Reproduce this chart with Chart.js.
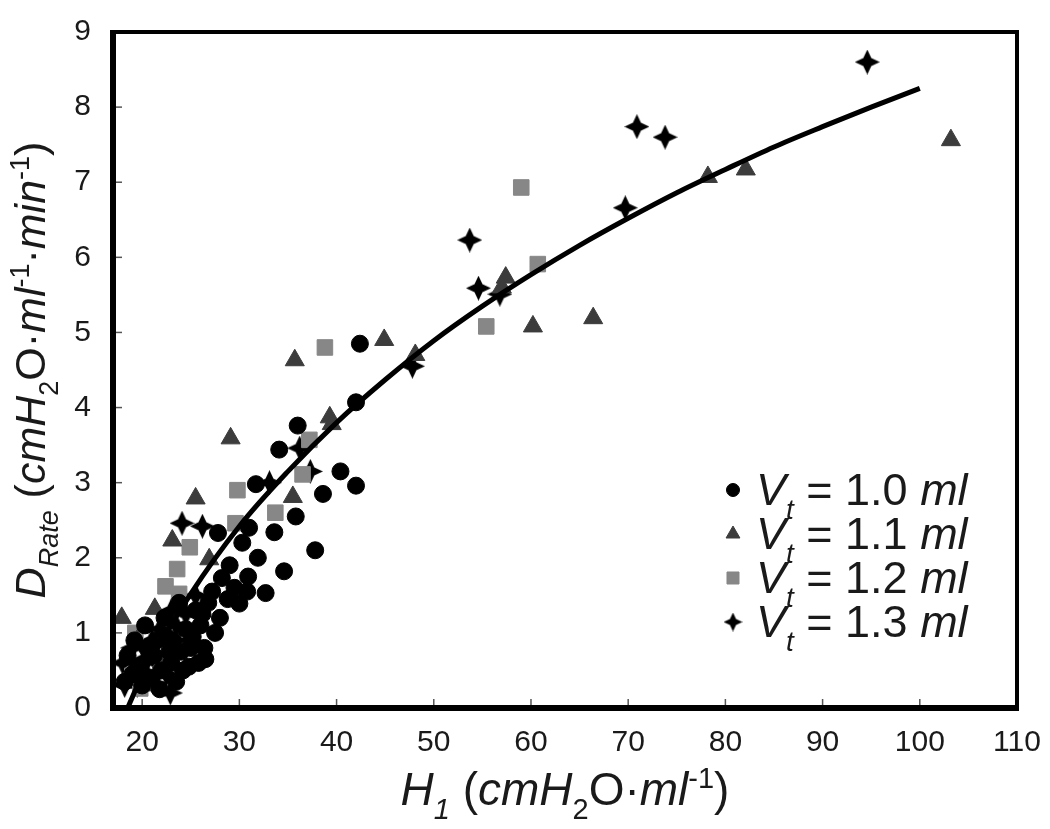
<!DOCTYPE html>
<html>
<head>
<meta charset="utf-8">
<script src="https://cdn.jsdelivr.net/npm/chart.js@4.4.1/dist/chart.umd.min.js"></script>
<style>
  html, body { margin: 0; background: #fff; }
</style>
</head>
<body>
<canvas id="chart" width="1050" height="829"></canvas>
<script>
// tick labels
const xTicks = [20, 30, 40, 50, 60, 70, 80, 90, 100, 110];
const yTicks = [0, 1, 2, 3, 4, 5, 6, 7, 8, 9];

// series, [H1, DRate]
const vt10 = [
  [42.4, 4.85], [42.0, 4.07], [36.0, 3.76], [34.1, 3.44], [40.4, 3.15], [42.0, 2.96],
  [38.6, 2.85], [35.8, 2.55], [31.7, 2.98], [33.6, 2.34], [37.8, 2.1], [34.6, 1.82],
  [32.7, 1.53], [27.8, 2.33], [30.3, 2.2], [31.9, 2.0], [30.9, 1.75], [28.2, 1.73],
  [30.0, 1.39], [30.8, 1.55], [29.0, 1.9], [31.0, 2.4], [29.5, 1.6], [27.5, 1.0],
  [26.5, 0.65], [26.4, 0.8], [28.0, 1.2], [26.0, 1.1], [25.2, 0.95], [24.0, 0.75],
  [23.0, 0.6], [22.0, 0.5], [21.0, 0.4], [19.5, 0.55], [20.5, 0.8], [21.5, 0.9],
  [22.5, 0.95], [24.5, 1.05], [25.5, 1.3], [23.5, 0.35], [24.8, 0.55], [20.0, 0.3],
  [18.5, 0.7], [19.0, 0.45], [26.8, 1.4], [27.2, 1.55], [28.8, 1.45], [25.8, 0.6],
  [22.8, 0.75], [19.2, 0.9], [20.3, 1.1], [21.2, 0.7], [22.3, 1.2], [23.2, 0.9],
  [24.2, 0.5], [25.0, 0.8], [26.2, 1.25], [23.8, 1.4], [21.8, 0.25], [18.2, 0.35]
];
const vt11 = [
  [103.2, 7.56], [82.1, 7.17], [78.2, 7.07], [66.4, 5.19], [60.2, 5.08], [57.4, 5.73],
  [57.0, 5.6], [48.1, 4.7], [44.9, 4.9], [35.7, 4.63], [39.3, 3.87], [39.5, 3.78],
  [29.1, 3.59], [35.5, 2.81], [25.5, 2.79], [23.1, 2.23], [26.9, 1.98], [21.3, 1.32],
  [17.9, 1.2], [19.5, 0.9], [22.0, 0.6], [22.8, 0.74], [20.5, 0.3]
];
const vt12 = [
  [59.0, 6.93], [60.7, 5.91], [55.4, 5.08], [38.8, 4.8], [37.2, 3.57], [36.5, 3.11],
  [33.7, 2.6], [29.8, 2.9], [29.6, 2.46], [24.9, 2.14], [23.6, 1.85], [22.4, 1.62],
  [23.8, 1.52], [19.8, 0.26], [19.3, 1.0], [22.8, 0.78], [19.0, 0.43]
];
const vt13 = [
  [94.6, 8.6], [70.9, 7.74], [73.8, 7.6], [69.7, 6.66], [53.7, 6.23], [54.6, 5.59],
  [56.8, 5.51], [47.8, 4.55], [36.2, 3.46], [37.3, 3.15], [33.1, 3.0], [24.1, 2.46],
  [26.2, 2.42], [22.9, 0.2], [18.0, 0.6], [19.0, 0.8], [20.2, 0.65], [21.0, 0.9],
  [21.8, 1.05], [22.5, 0.45], [23.5, 1.1], [24.5, 1.25], [20.5, 0.45], [19.5, 0.3],
  [25.5, 1.5], [18.2, 0.3], [21.5, 0.6], [23.0, 1.3], [24.8, 0.9]
];

// fitted curve
const fitX = [18.5, 20, 25, 30, 35, 40, 45, 50, 55, 60, 65, 70, 75, 80, 85, 90, 95, 100];
const fitY = [0.0, 0.43, 1.52, 2.42, 3.15, 3.8, 4.37, 4.89, 5.35, 5.77, 6.16, 6.52, 6.86, 7.17, 7.47, 7.74, 8.0, 8.25];

const legendLabels = ['1.0', '1.1', '1.2', '1.3'];

const FONT = '"Liberation Sans", Arial, sans-serif';

function makeStar(size, inner) {
  const c = document.createElement('canvas');
  c.width = size; c.height = size;
  const g = c.getContext('2d');
  const m = size / 2, k = size * inner;
  g.fillStyle = '#000';
  g.beginPath();
  g.moveTo(m, 0);
  g.lineTo(m + k, m - k);
  g.lineTo(size, m);
  g.lineTo(m + k, m + k);
  g.lineTo(m, size);
  g.lineTo(m - k, m + k);
  g.lineTo(0, m);
  g.lineTo(m - k, m - k);
  g.closePath();
  g.fill();
  return c;
}
const starBig = makeStar(25, 0.16);
const starSmall = makeStar(19, 0.16);

const toPts = arr => arr.map(p => ({ x: p[0], y: p[1] }));

function fontOf(s, size) {
  const f = (s.sub || s.sup) ? Math.round(size * 0.62) : size;
  return (s.i ? 'italic ' : '') + f + 'px ' + FONT;
}
function richWidth(ctx, segs, size) {
  let w = 0;
  segs.forEach(s => { ctx.font = fontOf(s, size); w += ctx.measureText(s.t).width; });
  return w;
}
function drawRich(ctx, segs, x, y, size) {
  segs.forEach(s => {
    ctx.font = fontOf(s, size);
    const dy = s.sub ? size * 0.3 : s.sup ? -size * 0.38 : 0;
    ctx.fillText(s.t, x, y + dy);
    x += ctx.measureText(s.t).width;
  });
}

const xTitle = [
  { t: 'H', i: 1 }, { t: '1', i: 1, sub: 1 }, { t: ' (' }, { t: 'cmH', i: 1 }, { t: '2', sub: 1 },
  { t: 'O·' }, { t: 'ml', i: 1 }, { t: '-1', sup: 1 }, { t: ')' }
];
const yTitle = [
  { t: 'D', i: 1 }, { t: 'Rate', i: 1, sub: 1 }, { t: ' (' }, { t: 'cmH', i: 1 }, { t: '2', sub: 1 },
  { t: 'O·' }, { t: 'ml', i: 1 }, { t: '-1', sup: 1 }, { t: '·' }, { t: 'min', i: 1 },
  { t: '-1', sup: 1 }, { t: ')' }
];

const decor = {
  id: 'decor',
  afterDatasetsDraw(chart) {
    const { ctx, chartArea: a, scales } = chart;
    ctx.save();
    // inward tick marks
    ctx.strokeStyle = '#555';
    ctx.lineWidth = 1.5;
    xTicks.forEach(v => {
      const px = scales.x.getPixelForValue(v);
      ctx.beginPath(); ctx.moveTo(px, a.bottom); ctx.lineTo(px, a.bottom - 9); ctx.stroke();
    });
    yTicks.forEach(v => {
      const py = scales.y.getPixelForValue(v);
      ctx.beginPath(); ctx.moveTo(a.left, py); ctx.lineTo(a.left + 9, py); ctx.stroke();
    });
    // frame
    ctx.strokeStyle = '#000';
    ctx.lineWidth = 4;
    ctx.strokeRect(a.left, a.top, a.right - a.left, a.bottom - a.top);
    ctx.lineWidth = 6;
    ctx.beginPath();
    ctx.moveTo(a.left, a.top - 2); ctx.lineTo(a.left, a.bottom); ctx.lineTo(a.right + 2, a.bottom);
    ctx.stroke();

    // axis titles
    ctx.fillStyle = '#1a1a1a';
    ctx.textBaseline = 'alphabetic';
    ctx.textAlign = 'left';
    const xs = 46;
    const xw = richWidth(ctx, xTitle, xs);
    drawRich(ctx, xTitle, (a.left + a.right) / 2 - xw / 2, 805, xs);
    const ys = 43;
    const yw = richWidth(ctx, yTitle, ys);
    ctx.save();
    ctx.translate(45, (a.top + a.bottom) / 2);
    ctx.rotate(-Math.PI / 2);
    drawRich(ctx, yTitle, -yw / 2, 0, ys);
    ctx.restore();

    // legend
    const ls = 45;
    const rowY = [505, 549, 593, 637];
    chart.data.datasets.slice(1).forEach((ds, i) => {
      const my = rowY[i] - 15;
      const mx = 733;
      if (i === 3) {
        ctx.drawImage(starSmall, mx - 9.5, my - 9.5);
      } else {
        ctx.fillStyle = ds.backgroundColor;
        ctx.strokeStyle = ds.borderColor;
        ctx.lineWidth = 1;
        Chart.helpers.drawPoint(ctx, {
          pointStyle: ds.pointStyle,
          radius: i === 0 ? 6.5 : i === 1 ? 8 : 8.5,
          borderWidth: 1
        }, mx, my);
      }
      ctx.fillStyle = '#1a1a1a';
      drawRich(ctx, [
        { t: 'V', i: 1 }, { t: 't', i: 1, sub: 1 }, { t: ' = ' + legendLabels[i] + ' ' }, { t: 'ml', i: 1 }
      ], 756, rowY[i], ls);
    });
    ctx.restore();
  }
};

const tickFont = { family: FONT, size: 30 };

new Chart(document.getElementById('chart'), {
  type: 'scatter',
  data: {
    datasets: [
      {
        label: 'fit',
        data: fitX.map((x, i) => ({ x, y: fitY[i] })),
        showLine: true,
        borderColor: '#000',
        borderWidth: 5,
        pointRadius: 0,
        cubicInterpolationMode: 'monotone'
      },
      {
        label: 'Vt = 1.0 ml', data: toPts(vt10), pointStyle: 'circle', pointRadius: 8.5,
        backgroundColor: '#000', borderColor: '#000', borderWidth: 1
      },
      {
        label: 'Vt = 1.1 ml', data: toPts(vt11), pointStyle: 'triangle', pointRadius: 11,
        backgroundColor: '#3c3c3c', borderColor: '#3c3c3c', borderWidth: 1
      },
      {
        label: 'Vt = 1.2 ml', data: toPts(vt12), pointStyle: 'rect', pointRadius: 11,
        backgroundColor: '#878787', borderColor: '#878787', borderWidth: 1
      },
      {
        label: 'Vt = 1.3 ml', data: toPts(vt13), pointStyle: starBig, pointRadius: 12,
        backgroundColor: '#000', borderColor: '#000'
      }
    ]
  },
  options: {
    responsive: false,
    animation: false,
    devicePixelRatio: 1,
    layout: { padding: { top: 15, right: 33, left: 0, bottom: 0 } },
    plugins: { legend: { display: false }, tooltip: { enabled: false } },
    scales: {
      x: {
        type: 'linear', min: 17, max: 110,
        afterBuildTicks: s => { s.ticks = xTicks.map(v => ({ value: v })); },
        afterFit: s => { s.height = 121; },
        grid: { display: false },
        border: { display: false },
        ticks: { font: tickFont, color: '#1a1a1a', padding: 9, maxRotation: 0 }
      },
      y: {
        min: 0, max: 9,
        afterBuildTicks: s => { s.ticks = yTicks.map(v => ({ value: v })); },
        afterFit: s => { s.width = 113; },
        grid: { display: false },
        border: { display: false },
        ticks: { font: tickFont, color: '#1a1a1a', padding: 14 }
      }
    }
  },
  plugins: [decor]
});
</script>
</body>
</html>
